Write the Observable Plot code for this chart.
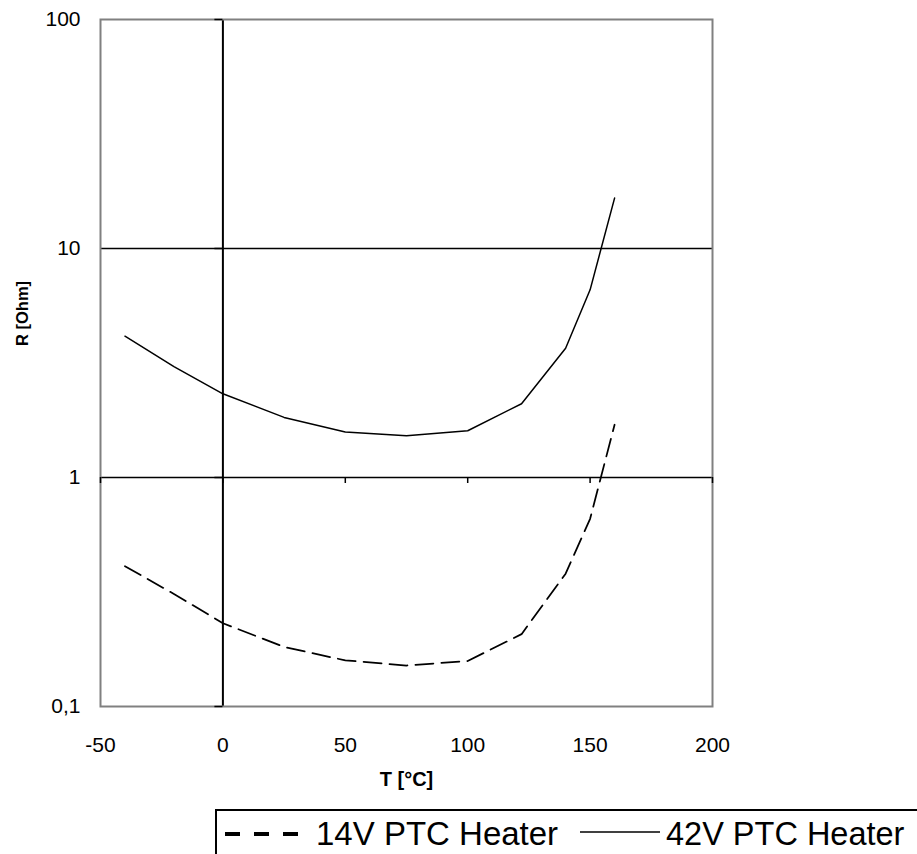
<!DOCTYPE html>
<html>
<head>
<meta charset="utf-8">
<script src="https://cdn.jsdelivr.net/npm/d3@7"></script>
<script src="https://cdn.jsdelivr.net/npm/@observablehq/plot@0.6"></script>
<style>
  html, body { margin: 0; padding: 0; background: #fff; }
  #wrap { width: 917px; font-family: "Liberation Sans", Arial, sans-serif; }
  #legend { display: block; }
</style>
</head>
<body>
<div id="wrap"></div>
<script>
// Temperature [°C]
const temps = [-40, -20, 0, 25, 50, 75, 100, 122, 140, 150, 160];
// Resistance [Ohm]
const r14V = [0.41, 0.31, 0.231, 0.182, 0.159, 0.151, 0.158, 0.207, 0.38, 0.66, 1.70];
const r42V = [4.14, 3.05, 2.32, 1.83, 1.58, 1.52, 1.60, 2.10, 3.67, 6.6, 16.6];
const seriesNames = ["14V PTC Heater", "42V PTC Heater"];
const xTicks = [-50, 0, 50, 100, 150, 200];
const yTicks = [0.1, 1, 10, 100];
const yTickLabels = ["0,1", "1", "10", "100"];
const yGrid = [1, 10];
const xTitle = "T [°C]";
const yTitle = "R [Ohm]";

const d14 = temps.map((t, i) => ({T: t, R: r14V[i]}));
const d42 = temps.map((t, i) => ({T: t, R: r42V[i]}));
const yLabelMap = new Map(yTicks.map((v, i) => [v, yTickLabels[i]]));

const chart = Plot.plot({
  width: 917,
  height: 805,
  marginLeft: 100,
  marginRight: 205,
  marginTop: 19,
  marginBottom: 99,
  style: {fontFamily: "'Liberation Sans', Arial, sans-serif", fontSize: "21px", color: "black", background: "white"},
  x: {domain: [-50, 200]},
  y: {type: "log", domain: [0.1, 100]},
  marks: [
    Plot.ruleY(yGrid, {y: d => d, stroke: "black", strokeWidth: 1.5}),
    Plot.ruleX([0], {x: d => d, stroke: "black", strokeWidth: 2}),
    Plot.frame({stroke: "#808080", strokeWidth: 2}),
    // tick marks on the crossing axes
    Plot.ruleX(xTicks, {x: d => d, y1: 1, y2: 1, insetBottom: -6, stroke: "black", strokeWidth: 1.5}),
    Plot.ruleY(yTicks, {y: d => d, x1: 0, x2: 0, insetLeft: -8, stroke: "black", strokeWidth: 1.5}),
    Plot.line(d14, {x: "T", y: "R", stroke: "black", strokeWidth: 1.75, strokeDasharray: "18,8"}),
    Plot.line(d42, {x: "T", y: "R", stroke: "black", strokeWidth: 1.5}),
    Plot.axisX({ticks: xTicks, tickSize: 0, tickPadding: 31, tickFormat: d => String(d), label: null, fontSize: 21}),
    Plot.axisY({ticks: yTicks, tickSize: 0, tickPadding: 20, tickFormat: d => yLabelMap.get(d), label: null, fontSize: 21}),
    Plot.text([xTitle], {frameAnchor: "bottom", dy: 79, text: d => d, fontWeight: "bold", fontSize: 20}),
    Plot.text([yTitle], {frameAnchor: "left", dx: -78, dy: -17, rotate: -90, text: d => d, fontWeight: "bold", fontSize: 16.5})
  ]
});
document.getElementById("wrap").appendChild(chart);

// Legend below the chart
const leg = d3.select("#wrap").append("svg")
  .attr("id", "legend")
  .attr("width", 917).attr("height", 49)
  .style("font-family", "'Liberation Sans', Arial, sans-serif");
leg.append("rect").attr("x", 216).attr("y", 5).attr("width", 800).attr("height", 100)
  .attr("fill", "white").attr("stroke", "black").attr("stroke-width", 2);
leg.append("line").attr("x1", 225).attr("x2", 300).attr("y1", 29).attr("y2", 29)
  .attr("stroke", "black").attr("stroke-width", 4).attr("stroke-dasharray", "15,14");
leg.append("text").attr("x", 316).attr("y", 40).attr("font-size", 33).text(seriesNames[0]);
leg.append("line").attr("x1", 580).attr("x2", 660).attr("y1", 27).attr("y2", 27)
  .attr("stroke", "black").attr("stroke-width", 1.5);
leg.append("text").attr("x", 666).attr("y", 40).attr("font-size", 32.5).text(seriesNames[1]);
</script>
</body>
</html>
